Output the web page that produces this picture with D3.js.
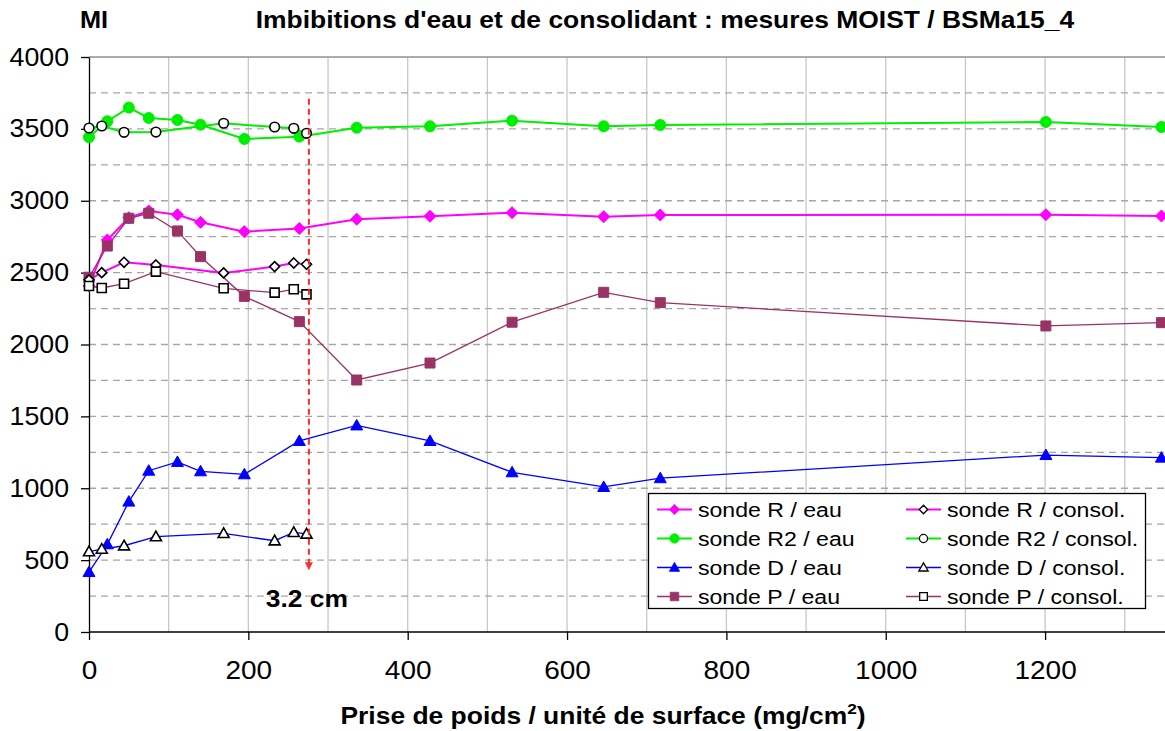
<!DOCTYPE html>
<html><head><meta charset="utf-8">
<script src="https://cdn.jsdelivr.net/npm/d3@7"></script>
<style>
body{margin:0;background:#fff}
text{font-family:"Liberation Sans",Arial,sans-serif}
</style>
</head><body>
<svg id="c" width="1165" height="731"></svg>
<script>
// ---- data ----
const xEau = [0, 23, 50, 75, 111, 140, 195, 264, 336, 428, 531, 646, 717, 1201, 1346];
const rEau  = [2407, 2727, 2882, 2929, 2903, 2850, 2785, 2807, 2872, 2892, 2917, 2889, 2901, 2903, 2894];
const r2Eau = [3442, 3553, 3648, 3576, 3562, 3529, 3430, 3446, 3508, 3518, 3557, 3518, 3527, 3548, 3513];
const dEau  = [417, 610, 907, 1122, 1183, 1118, 1097, 1329, 1437, 1329, 1111, 1009, 1070, 1231, 1213];
const pEau  = [2468, 2685, 2878, 2913, 2790, 2611, 2335, 2159, 1753, 1871, 2155, 2363, 2291, 2129, 2152];

const xConsol  = [0, 16, 44, 84, 169, 233, 257, 273];
const rConsol  = [2450, 2500, 2572, 2553, 2498, 2542, 2567, 2558];
const r2Consol = [3506, 3520, 3476, 3478, 3539, 3513, 3504, 3469];
const dConsol  = [559, 577, 600, 663, 686, 635, 693, 682];
const pConsol  = [2407, 2393, 2423, 2507, 2391, 2361, 2384, 2349];

const seriesNames = ["sonde R / eau","sonde R / consol.","sonde R2 / eau","sonde R2 / consol.",
                     "sonde D / eau","sonde D / consol.","sonde P / eau","sonde P / consol."];
const xTicks = [0, 200, 400, 600, 800, 1000, 1200];
const yTicks = [0, 500, 1000, 1500, 2000, 2500, 3000, 3500, 4000];
const title = "Imbibitions d'eau et de consolidant : mesures MOIST / BSMa15_4";
const yUnit = "MI";
const xTitle = "Prise de poids / unité de surface (mg/cm";
const markLineX = 276, markLineTop = 3710, markLineBottom = 430;
const markLabel = "3.2 cm";

// ---- setup ----
const svg = d3.select("#c");
const x = d3.scaleLinear().domain([0, 1350]).range([89, 1164.6]);
const y = d3.scaleLinear().domain([0, 4000]).range([632, 57]);

// horizontally stretch text about its x anchor
function stretch(sel, k) {
  sel.each(function() {
    const e = d3.select(this);
    const ax = +e.attr("x") || 0;
    e.attr("transform", `translate(${ax * (1 - k)},0) scale(${k},1)`);
  });
}

const series = [
  {name: seriesNames[0], xs: xEau, ys: rEau, color: "#ff00ff", lw: 2, marker: "diamond", filled: true},
  {name: seriesNames[2], xs: xEau, ys: r2Eau, color: "#00ee00", lw: 2, marker: "circle", filled: true},
  {name: seriesNames[4], xs: xEau, ys: dEau, color: "#0000ff", lw: 1.3, marker: "triangle", filled: true},
  {name: seriesNames[6], xs: xEau, ys: pEau, color: "#993366", lw: 1.3, marker: "square", filled: true},
  {name: seriesNames[1], xs: xConsol, ys: rConsol, color: "#ff00ff", lw: 2, marker: "diamond", filled: false},
  {name: seriesNames[3], xs: xConsol, ys: r2Consol, color: "#00ee00", lw: 2, marker: "circle", filled: false},
  {name: seriesNames[5], xs: xConsol, ys: dConsol, color: "#0000ff", lw: 1.3, marker: "triangle", filled: false},
  {name: seriesNames[7], xs: xConsol, ys: pConsol, color: "#993366", lw: 1.3, marker: "square", filled: false}
];

function markerPath(type, filled) {
  if (type === "diamond") { const r = filled ? 6 : 5; return `M0,${-r}L${r},0L0,${r}L${-r},0Z`; }
  if (type === "square") { const r = filled ? 5 : 4.5; return `M${-r},${-r}H${r}V${r}H${-r}Z`; }
  if (type === "triangle") { const r = filled ? 6 : 5.5; return `M0,${-r}L${r},${r*0.75}L${-r},${r*0.75}Z`; }
  const r = filled ? 5.5 : 4.8;
  return `M${r},0A${r},${r} 0 1,1 ${-r},0A${r},${r} 0 1,1 ${r},0Z`;
}

// ---- grid ----
const grid = svg.append("g");
grid.selectAll("line.v").data(d3.range(100, 1400, 100)).join("line")
  .attr("x1", d => x(d)).attr("x2", d => x(d)).attr("y1", y(4000)).attr("y2", y(0))
  .attr("stroke", "#c8c8c8").attr("stroke-width", 1.3);
grid.selectAll("line.h").data(d3.range(250, 4000, 250)).join("line")
  .attr("x1", x(0)).attr("x2", 1165).attr("y1", d => y(d)).attr("y2", d => y(d))
  .attr("stroke", "#a6a6a6").attr("stroke-width", 1.3).attr("stroke-dasharray", "7,5");
grid.append("line").attr("x1", x(0)).attr("x2", 1165).attr("y1", y(4000)).attr("y2", y(4000))
  .attr("stroke", "#909090").attr("stroke-width", 1.3);

// ---- axes ----
const yAxis = svg.append("g").attr("transform", `translate(${x(0)},0)`)
  .call(d3.axisLeft(y).tickValues(yTicks).tickSize(8).tickSizeOuter(0).tickPadding(12).tickFormat(d3.format("d")));
yAxis.selectAll("text").attr("font-size", 25).attr("fill", "#000").attr("font-family", '"Liberation Sans",Arial,sans-serif');
yAxis.selectAll("line,path").attr("stroke", "#000").attr("stroke-width", 1.3);
stretch(yAxis.selectAll("text"), 1.07);

const xAxis = svg.append("g").attr("transform", `translate(0,${y(0)})`)
  .call(d3.axisBottom(x).tickValues(xTicks).tickSize(8).tickSizeOuter(0).tickPadding(21).tickFormat(d3.format("d")));
xAxis.select("path").attr("d", `M${x(0)},0H1165`);
xAxis.selectAll("text").attr("font-size", 25).attr("fill", "#000").attr("font-family", '"Liberation Sans",Arial,sans-serif');
xAxis.selectAll("line,path").attr("stroke", "#000").attr("stroke-width", 1.3);
stretch(xAxis.selectAll("text"), 1.12);

// ---- series ----
const line = d3.line().x(d => x(d[0])).y(d => y(d[1]));
series.forEach(s => {
  const pts = s.xs.map((v, k) => [v, s.ys[k]]);
  svg.append("path").datum(pts).attr("d", line).attr("fill", "none")
    .attr("stroke", s.color).attr("stroke-width", s.lw);
});
series.forEach(s => {
  const pts = s.xs.map((v, k) => [v, s.ys[k]]);
  svg.append("g").selectAll("path").data(pts).join("path")
    .attr("transform", d => `translate(${x(d[0])},${y(d[1])})`)
    .attr("d", markerPath(s.marker, s.filled))
    .attr("fill", s.filled ? s.color : "#fff")
    .attr("stroke", s.filled ? s.color : "#000")
    .attr("stroke-width", s.filled ? 1 : 1.6);
});

// ---- red marker line ----
svg.append("line").attr("x1", x(markLineX)).attr("x2", x(markLineX))
  .attr("y1", y(markLineTop)).attr("y2", y(markLineBottom) - 6)
  .attr("stroke", "#ff2a2a").attr("stroke-width", 2).attr("stroke-dasharray", "6,4");
svg.append("path")
  .attr("d", `M${x(markLineX) - 4},${y(markLineBottom) - 8}L${x(markLineX) + 4},${y(markLineBottom) - 8}L${x(markLineX)},${y(markLineBottom)}Z`)
  .attr("fill", "#ff2a2a");
const ml = svg.append("text").attr("x", x(markLineX) - 2).attr("y", 607).attr("text-anchor", "middle")
  .attr("font-size", 24).attr("font-weight", "bold").text(markLabel);
stretch(ml, 1.1);

// ---- legend ----
const lg = svg.append("g");
lg.append("rect").attr("x", 648.5).attr("y", 493.5).attr("width", 497).attr("height", 115)
  .attr("fill", "#fff").attr("stroke", "#000").attr("stroke-width", 1.3);
const legendOrder = [0, 4, 1, 5, 2, 6, 3, 7];
legendOrder.forEach((si, k) => {
  const s = series[si];
  const col = k % 2, row = Math.floor(k / 2);
  const lx = col === 0 ? 657 : 906;
  const ly = 509.5 + row * 29;
  lg.append("line").attr("x1", lx).attr("x2", lx + 35).attr("y1", ly).attr("y2", ly)
    .attr("stroke", s.color).attr("stroke-width", s.lw);
  lg.append("path")
    .attr("d", markerPath(s.marker, s.filled))
    .attr("fill", s.filled ? s.color : "#fff")
    .attr("stroke", s.filled ? s.color : "#000")
    .attr("stroke-width", s.filled ? 1 : 1.5)
    .attr("transform", `translate(${lx + 17.5},${ly}) scale(0.85)`);
  const t = lg.append("text").attr("x", lx + 41).attr("y", ly + 8).attr("font-size", 21).text(s.name);
  stretch(t, 1.1);
});

// ---- titles ----
const mi = svg.append("text").attr("x", 80).attr("y", 28).attr("font-size", 23).attr("font-weight", "bold").text(yUnit);
stretch(mi, 1.1);
const tt = svg.append("text").attr("x", 665).attr("y", 28).attr("text-anchor", "middle")
  .attr("font-size", 23).attr("font-weight", "bold").text(title);
stretch(tt, 1.15);
const xt = svg.append("text").attr("x", 603).attr("y", 724).attr("text-anchor", "middle")
  .attr("font-size", 23).attr("font-weight", "bold");
xt.append("tspan").text(xTitle);
xt.append("tspan").attr("font-size", 15).attr("dy", -10).text("2");
xt.append("tspan").attr("dy", 10).text(")");
stretch(xt, 1.15);
</script>
</body></html>
